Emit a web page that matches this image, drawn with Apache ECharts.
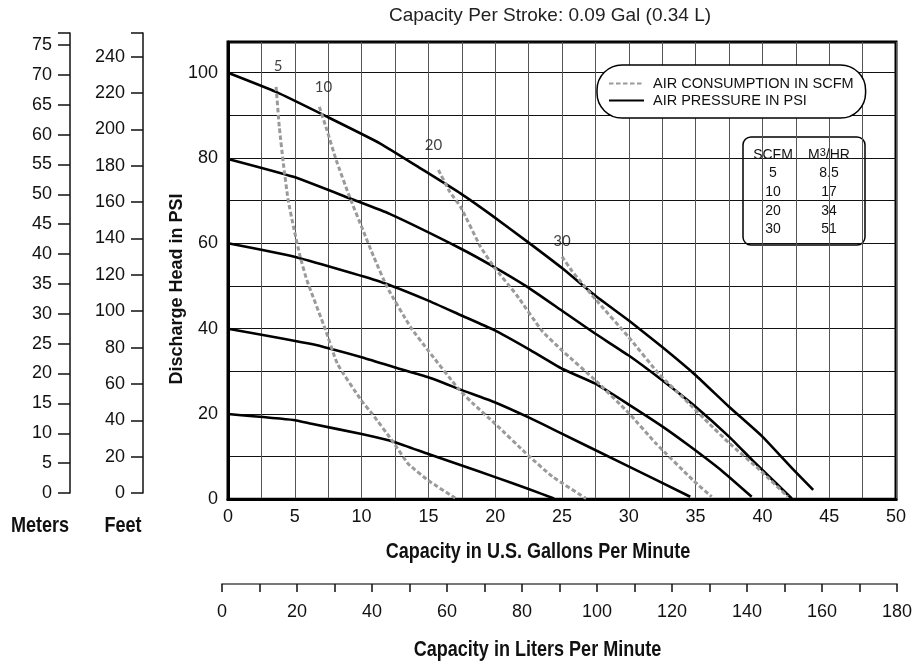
<!DOCTYPE html>
<html><head><meta charset="utf-8">
<script src="https://cdn.jsdelivr.net/npm/echarts@6/dist/echarts.min.js"></script>
<style>html,body{margin:0;padding:0;background:#fff}#c{width:920px;height:662px}</style>
</head><body><div id="c"></div>
<script>
// ---- data ----
const psi100 = [[0,100],[3.6,95.5],[7.4,89.7],[11.4,83.4],[14.5,77.4],[17.4,71.7],[19.9,66.2],[22.4,60.4],[25,54.2],[27.5,47.7],[30,41.9],[32.5,35.7],[35,29.1],[37.5,21.7],[40,14.7],[42.3,7.0],[43.8,2.2]];
const psi80 = [[0,79.8],[4.9,75.6],[9.4,70.2],[12.1,66.9],[17.4,58.8],[19.9,54.5],[22.4,49.8],[25,44.2],[27.5,38.8],[30,33.7],[32.5,27.9],[35,21.7],[37.5,14.7],[39.3,9.0],[42.2,0.2]];
const psi60 = [[0,60],[4.9,56.9],[11.4,51.0],[14.9,46.7],[17.4,43.2],[19.9,39.7],[22.5,35.2],[25,30.6],[27.5,27.1],[30,22.2],[32.5,17.1],[34.5,12.6],[37,6.6],[39.2,0.6]];
const psi40 = [[0,40],[6.25,36.4],[10,33.3],[12.5,30.9],[15,28.6],[17.5,25.6],[20,22.7],[22.5,19.2],[24.6,16.0],[29.6,8.3],[34.6,0.6]];
const psi20 = [[0,20],[4.9,18.6],[6.25,17.7],[10,15.3],[12.5,13.4],[15,10.6],[17.5,7.9],[20,5.2],[22.5,2.4],[24.4,0.2]];

const scfm5 = [[3.6,96.7],[3.84,87.3],[4.14,78.8],[4.5,70.2],[4.9,63.9],[5.4,56.9],[5.9,51.4],[7.3,39.7],[8.2,31.7],[10.0,23.1],[10.8,20.0],[12.3,13.7],[13.5,8.3],[15.0,4.4],[17.0,0.3]];
const scfm10 = [[6.84,92.0],[7.4,86.6],[8.1,79.5],[9.1,70.9],[10.1,63.1],[10.9,56.9],[11.9,49.8],[13.7,40.2],[15.0,34.8],[17.25,25.9],[18.25,22.7],[20.0,17.7],[22.5,10.2],[24.3,5.3],[26.8,0.2]];
const scfm20 = [[15.75,77.2],[16.6,72.1],[17.4,68.6],[18.9,59.2],[19.9,54.5],[21.6,47.9],[23.5,39.5],[25,34.9],[27.5,27.9],[30,20.2],[32,13.2],[34.8,4.5],[36.2,0.6]];
const scfm30 = [[25.0,56.9],[25.75,53.5],[26.3,51.4],[27.5,46.9],[30,38.0],[32.25,29.4],[34.5,22.5],[36,17.8],[37.5,13.2],[39.8,6.9],[41.9,0.6]];

const scfmValues = ['5','10','20','30'];
const m3hrValues = ['8.5','17','34','51'];
const legendNames = ['AIR CONSUMPTION IN SCFM','AIR PRESSURE IN PSI'];
const titleText = 'Capacity Per Stroke: 0.09 Gal (0.34 L)';

const pressureCurves = [psi100, psi80, psi60, psi40, psi20];
const scfmCurves = [scfm5, scfm10, scfm20, scfm30];

// ---- style ----
const F = "'Liberation Sans', Arial, sans-serif";
const labelOffsets = [[2,-8],[4,-7],[-5,-12.5],[0,-3]];

const chart = echarts.init(document.getElementById('c'));

const series = [];
pressureCurves.forEach(d => series.push({
  type:'line', name: legendNames[1], data: d, xAxisIndex:0, yAxisIndex:0,
  symbol:'none', smooth:0.15, z:3,
  lineStyle:{color:'#000', width:2.6, join:'round'}, itemStyle:{color:'#000'}
}));
scfmCurves.forEach(d => series.push({
  type:'line', name: legendNames[0], data: d, xAxisIndex:0, yAxisIndex:0,
  symbol:'none', smooth:0.15, z:4,
  lineStyle:{color:'#9a9a9a', width:3, type:[4.5,2.5], join:'round'}, itemStyle:{color:'#9a9a9a'}
}));
series.push({
  type:'scatter', name:'labels', xAxisIndex:0, yAxisIndex:0, symbolSize:0, z:5,
  data: scfmCurves.map((d,i) => ({value: d[0], label:{offset: labelOffsets[i]}})),
  label:{show:true, position:'top', distance:5, formatter: p => scfmValues[p.dataIndex],
    fontFamily:"Lato, 'Noto Sans', sans-serif", fontSize:15, color:'#111'}
});

// table graphic
const tableChildren = [
  {type:'rect', shape:{x:743, y:137, width:122, height:108, r:8},
   style:{fill:'#fff', stroke:'#000', lineWidth:1.5}},
  {type:'text', x:773, y:155, style:{text:'SCFM', font:'14px '+F, fill:'#111', textAlign:'center', textVerticalAlign:'middle'}},
  {type:'text', x:829, y:155, style:{text:'M{s|3}/HR', font:'14px '+F, fill:'#111', textAlign:'center', textVerticalAlign:'middle',
     rich:{s:{fontSize:11, fontFamily:F, verticalAlign:'top', padding:[0,0,5,0]}}}}
];
scfmValues.forEach((v,i) => {
  const y = 173.5 + i*18.6;
  tableChildren.push({type:'text', x:773, y:y, style:{text:v, font:'14px '+F, fill:'#111', textAlign:'center', textVerticalAlign:'middle'}});
  tableChildren.push({type:'text', x:829, y:y, style:{text:m3hrValues[i], font:'14px '+F, fill:'#111', textAlign:'center', textVerticalAlign:'middle'}});
});

const narrow = (text, x, y) => ({type:'text', x:x, y:y, scaleX:0.82, z:10,
  style:{text:text, font:'bold 22px '+F, fill:'#111', textAlign:'center', textVerticalAlign:'middle'}});

const option = {
  animation:false,
  backgroundColor:'#fff',
  grid:[
    {left:228, right:24, top:42, bottom:162.7, show:true, borderColor:'#000', borderWidth:3, backgroundColor:'transparent'},
    {left:70, top:33, width:10, height:460},
    {left:143, top:33, width:10, height:460},
    {left:222, top:583, width:675, height:1}
  ],
  xAxis:[
    {gridIndex:0, type:'value', min:0, max:50, interval:2.5,
     axisLine:{show:true, lineStyle:{color:'#000', width:3}}, axisTick:{show:false},
     axisLabel:{margin:9, fontFamily:F, fontSize:18, color:'#111', formatter: v => (v%5===0 ? String(v) : '')},
     splitLine:{show:true, lineStyle:{color:'#555', width:1}}},
    {gridIndex:1, type:'value', show:false},
    {gridIndex:2, type:'value', show:false},
    {gridIndex:3, type:'value', min:0, max:180, interval:10, position:'bottom',
     axisLine:{show:true, lineStyle:{color:'#777', width:2}},
     axisTick:{show:true, inside:false, length:8, lineStyle:{color:'#111', width:1.5}},
     axisLabel:{margin:19, fontFamily:F, fontSize:18, color:'#111', formatter: v => (v%20===0 ? String(v) : '')},
     splitLine:{show:false}}
  ],
  yAxis:[
    {gridIndex:0, type:'value', min:0, max:107.2, interval:10,
     axisLine:{show:true, lineStyle:{color:'#000', width:3}}, axisTick:{show:false},
     axisLabel:{margin:10, fontFamily:F, fontSize:18, color:'#111', formatter: v => (v%20===0 ? String(v) : '')},
     splitLine:{show:true, lineStyle:{color:'#111', width:1}}},
    {gridIndex:1, type:'value', min:0, max:77, interval:5, position:'left',
     axisLine:{show:true, lineStyle:{color:'#111', width:1.5}},
     axisTick:{show:true, inside:false, length:12, lineStyle:{color:'#111', width:1.5}},
     axisLabel:{margin:18, fontFamily:F, fontSize:18, color:'#111', formatter: v => (v%5===0 ? String(v) : '')},
     splitLine:{show:false}},
    {gridIndex:2, type:'value', min:0, max:253, interval:20, position:'left',
     axisLine:{show:true, lineStyle:{color:'#111', width:1.5}},
     axisTick:{show:true, inside:false, length:12, lineStyle:{color:'#111', width:1.5}},
     axisLabel:{margin:18, fontFamily:F, fontSize:18, color:'#111', formatter: v => (v%20===0 ? String(v) : '')},
     splitLine:{show:false}},
    {gridIndex:3, type:'value', show:false}
  ],
  legend:{
    data: legendNames, orient:'vertical', left:597, top:65, padding:[11,12,10,11],
    itemGap:2, itemWidth:35, itemHeight:14, selectedMode:false,
    itemStyle:{opacity:0},
    borderColor:'#000', borderWidth:1.5, borderRadius:25, backgroundColor:'#fff',
    textStyle:{fontFamily:F, fontSize:14.5, color:'#111', padding:[0,0,0,4]}
  },
  graphic:[
    {type:'text', x:550, y:16, z:10, style:{text:titleText, font:'19px '+F, fill:'#222', textAlign:'center', textVerticalAlign:'middle'}},
    {type:'text', x:177, y:289, rotation:Math.PI/2, z:10, style:{text:'Discharge Head in PSI', font:'bold 18px '+F, fill:'#111', textAlign:'center', textVerticalAlign:'middle'}},
    narrow('Capacity in U.S. Gallons Per Minute', 538, 552),
    narrow('Capacity in Liters Per Minute', 537.5, 650),
    narrow('Meters', 40, 526),
    narrow('Feet', 123, 526),
    {type:'group', z:10, children: tableChildren}
  ],
  series: series
};
chart.setOption(option);
</script>
</body></html>
